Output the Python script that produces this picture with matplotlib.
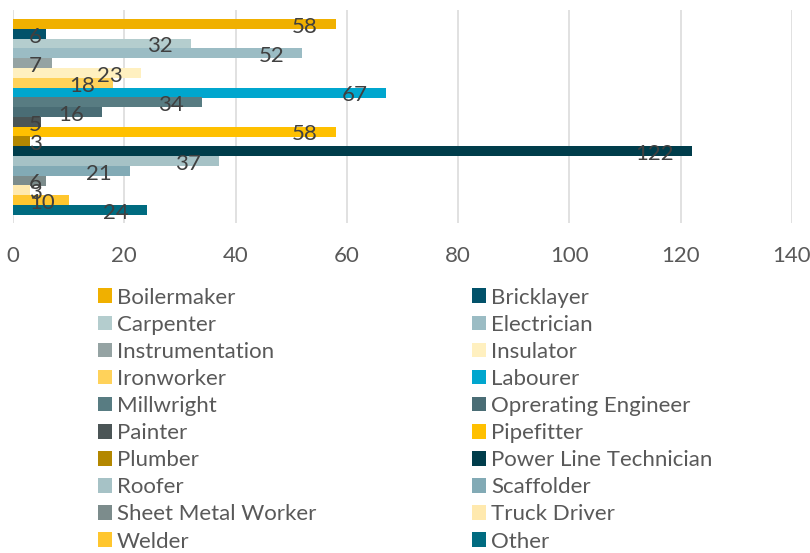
import matplotlib
matplotlib.use("Agg")
import matplotlib.pyplot as plt
from matplotlib.patches import Patch

plt.rcParams['font.family'] = ['Lato', 'DejaVu Sans']

trades = ["Boilermaker", "Bricklayer", "Carpenter", "Electrician", "Instrumentation",
          "Insulator", "Ironworker", "Labourer", "Millwright", "Oprerating Engineer",
          "Painter", "Pipefitter", "Plumber", "Power Line Technician", "Roofer",
          "Scaffolder", "Sheet Metal Worker", "Truck Driver", "Welder", "Other"]
counts = [58, 6, 32, 52, 7, 23, 18, 67, 34, 16, 5, 58, 3, 122, 37, 21, 6, 3, 10, 24]
colors = ["#F0B000", "#02526A", "#B4CDCE", "#9BBCC4", "#95A3A3",
          "#FFF0C0", "#FFD25A", "#00A6CE", "#587C82", "#4A6D75",
          "#4B5556", "#FFC000", "#B38700", "#003D4B", "#A6C2C6",
          "#82AAB5", "#7C8C8C", "#FFE9AE", "#FFC62E", "#006B80"]
xticks = [0, 20, 40, 60, 80, 100, 120, 140]

W, H = 810, 553
fig = plt.figure(figsize=(W / 100, H / 100), dpi=100)
ax = fig.add_axes([13 / W, 1 - 223 / H, (792 - 13) / W, (223 - 10) / H])

positions = list(range(len(trades)))
bars = ax.barh(positions, counts, height=1.02, color=colors, zorder=2)

ax.set_xlim(0, 140)
ax.set_ylim(len(trades) - 1 + 1.33, -1.43)
ax.set_xticks(xticks)
ax.set_yticks([])
ax.grid(axis='x', color='#D9D9D9', linewidth=1.1, zorder=0)
for s in ax.spines.values():
    s.set_visible(False)
ax.tick_params(axis='x', length=0, pad=16.5, labelsize=16, labelcolor='#595959')

# data labels: inside end, clamped to inside base
texts = []
for p, v in zip(positions, counts):
    t = ax.annotate(str(v), xy=(v, p), xytext=(-13, -2), textcoords='offset points',
                    ha='right', va='center', fontsize=16, color='#404040', zorder=3)
    texts.append((t, p))
fig.canvas.draw()
renderer = fig.canvas.get_renderer()
x0_disp = ax.transData.transform((0, 0))[0]
for t, p in texts:
    bb = t.get_window_extent(renderer)
    if bb.x0 < x0_disp + 16:
        t.xy = (0, p)
        t.set_position((11.5, -2))
        t.set_ha('left')

# legend (row-wise order in two columns)
handles = [Patch(facecolor=c, edgecolor='none') for c in colors]
order = list(range(0, len(trades), 2)) + list(range(1, len(trades), 2))
leg = fig.legend([handles[i] for i in order], [trades[i] for i in order],
                 ncol=2, loc='upper left', bbox_to_anchor=(98 / W, 1 - 287.5 / H),
                 frameon=False, fontsize=16, handlelength=0.63, handleheight=0.63,
                 handletextpad=0.23, labelspacing=0.32, columnspacing=7.0,
                 borderpad=0, borderaxespad=0)
for txt in leg.get_texts():
    txt.set_color('#595959')

fig.savefig("out.png", dpi=100)
